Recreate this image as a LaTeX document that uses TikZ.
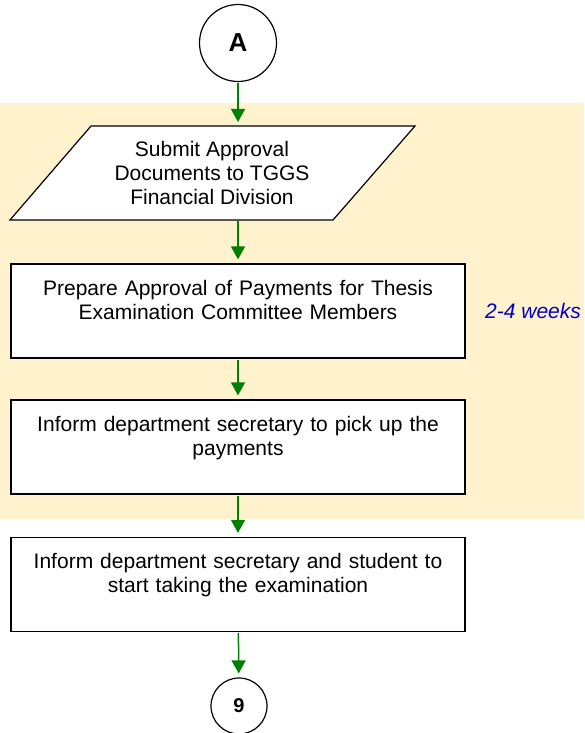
\documentclass[tikz,border=0pt]{standalone}
\usepackage{fontspec}
\setmainfont{Liberation Sans}
\usetikzlibrary{arrows.meta}
\definecolor{flowgreen}{RGB}{0,128,0}
\definecolor{bandbeige}{RGB}{255,242,204}
\definecolor{noteblue}{RGB}{0,0,204}

\begin{document}
\begin{tikzpicture}[x=1pt,y=-1pt]
\tikzstyle{every node}+=[inner sep=0pt, font=\fontsize{21}{24}\selectfont]
\tikzstyle{procbox}=[draw=black, line width=1.2pt, fill=white, minimum width=454pt, minimum height=94pt, text width=450pt, align=center, text height=15pt, text depth=47pt]
\tikzstyle{joint}=[draw=black, circle, line width=1.2pt, fill=white]
\tikzstyle{connector}=[draw=flowgreen, line width=1.5pt, -{Triangle[width=14pt,length=13pt]}, shorten >=4pt, shorten <=1pt]
\useasboundingbox (0,0) rectangle (584,733);
\fill [bandbeige] (0,103) rectangle (584,519);
\node [joint, minimum size=77pt, font=\bfseries\fontsize{26}{30}\selectfont] (A) at (238,43) {A};
\draw [black, line width=1.2pt, fill=white] (91,126) -- (415,126) -- (333,220) -- (10,220) -- cycle;
\coordinate (subtop) at (238,126);
\coordinate (subbot) at (238,220);
\node [align=center] (submit) at (212,173) {Submit Approval\\Documents to TGGS\\Financial Division};
\node [procbox] (prep) at (238,311) {Prepare Approval of Payments for Thesis\\Examination Committee Members};
\node [procbox] (pickup) at (238,447) {Inform department secretary to pick up the\\payments};
\node [procbox] (start) at (238,584.5) {Inform department secretary and student to\\start taking the examination};
\node [joint, minimum size=56pt, font=\bfseries\fontsize{20}{24}\selectfont] (nine) at (239,706) {9};
\node [anchor=west, text=noteblue, font=\itshape\fontsize{21}{24}\selectfont] (weeks) at (485,311) {2-4 weeks};
\draw [connector] (A) -- (subtop);
\draw [connector] (subbot) -- (subbot |- prep.north);
\draw [connector] (prep) -- (pickup);
\draw [connector] (pickup) -- (start);
\draw [connector] (start) -- (nine);
\end{tikzpicture}
\end{document}
